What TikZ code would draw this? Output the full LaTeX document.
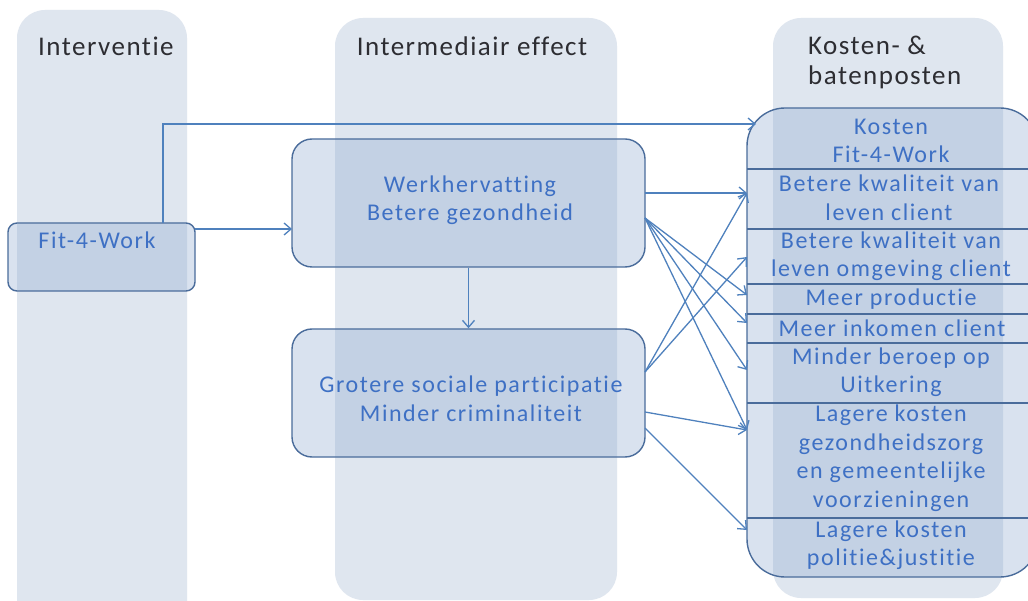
\documentclass[tikz,border=0pt]{standalone}
\usepackage{fontspec}
\setmainfont{Carlito}[LetterSpace=6.5, Ligatures={NoCommon,NoRare}]
\newfontfamily\hdrfont{Carlito}[LetterSpace=5.5, Ligatures={NoCommon,NoRare}]
\usetikzlibrary{arrows.meta,calc}
\definecolor{colbg}{RGB}{223,230,239}
\definecolor{boxfill}{RGB}{132,162,205}
\definecolor{boxline}{RGB}{74,108,155}
\definecolor{arrowc}{RGB}{79,129,189}
\definecolor{txtblue}{RGB}{62,112,196}
\definecolor{hdr}{RGB}{45,45,50}
\begin{document}
\begin{tikzpicture}[x=1pt,y=-1pt,
  column/.style={fill=colbg, draw=none, rounded corners=28pt},
  box/.style={draw=boxline, line width=1.4pt, fill=boxfill, fill opacity=0.3, rounded corners=20pt, inner sep=0pt},
  sepline/.style={draw=boxline, line width=1.4pt},
  arr/.style={draw=arrowc, line width=1.3pt, -{Straight Barb[length=7pt,width=12pt]}},
  btxt/.style={text=txtblue, font=\fontsize{24}{28.5}\selectfont, align=center, inner sep=0pt},
  htxt/.style={text=hdr, font=\hdrfont\fontsize{27}{30}\selectfont, inner sep=0pt}]
\useasboundingbox (0,0) rectangle (1028,601);
\clip (0,0) rectangle (1028,601);
\fill[white] (0,0) rectangle (1028,601);
% columns
\path[column] (17,10) rectangle (187,640);
\path[column] (335,18) rectangle (617,600);
\path[column] (773,18) rectangle (1003,598);
% headers
\node[htxt, anchor=west] (h1) at (38,46) {Interventie};
\node[htxt] (h2) at (472,46) {Intermediair effect};
\node[htxt, anchor=north west, align=left] (h3) at (808,36) {Kosten- \&\\batenposten};
% boxes
\node[box, rounded corners=9pt, minimum width=187pt, minimum height=68pt] (fit) at (101.5,257) {};
\node[box, minimum width=353pt, minimum height=128pt] (werk) at (468.5,203) {};
\node[box, minimum width=353pt, minimum height=128pt] (grot) at (468.5,393) {};
\node[box, rounded corners=38pt, minimum width=291pt, minimum height=469pt] (kost) at (892.5,342.5) {};
% separators
\foreach \yy in {169,229,284,314,343,403,518}
  \draw[sepline] (747,\yy) -- (1038,\yy);
% texts
\node[btxt] (tfit) at (97,240) {Fit-4-Work};
\node[btxt] (twerk) at (470,200) {Werkhervatting\\Betere gezondheid};
\node[btxt] (tgrot) at (471,399) {Grotere sociale participatie\\Minder criminaliteit};
\node[btxt] (r1) at (891,141) {Kosten\\Fit-4-Work};
\node[btxt] (r2) at (889,198) {Betere kwaliteit van\\leven client};
\node[btxt] (r3) at (891,256) {Betere kwaliteit van\\leven omgeving client};
\node[btxt] (r4) at (891,299) {Meer productie};
\node[btxt] (r5) at (892,328) {Meer inkomen client};
\node[btxt] (r6) at (891,372) {Minder beroep op\\Uitkering};
\node[btxt] (r7) at (891,458) {Lagere kosten\\gezondheidszorg\\en gemeentelijke\\voorzieningen};
\node[btxt] (r8) at (891,545) {Lagere kosten\\politie\&justitie};
% connector coordinates
\coordinate (fitA) at (163,223);
\coordinate (fitB) at (195,229);
\coordinate (werkIn) at (292,229);
\coordinate (kin) at (756,124);
\coordinate (wa) at (645,193);
\coordinate (wf) at (645,218);
\coordinate (ga) at (645,372);
\coordinate (gb) at (645,412);
\coordinate (gc) at (645,428);
\coordinate (k1) at (747,193);
\coordinate (k2) at (747,257);
\coordinate (k3) at (747,295);
\coordinate (k4) at (747,323);
\coordinate (k5) at (747,370);
\coordinate (k6) at (747,430);
\coordinate (k7) at (747,530);
% connectors
\draw[arr] (fitA) |- (kin);
\draw[arr] (fitB) -- (werkIn);
\draw[arr] (werk.south) -- (grot.north);
\draw[arr] (wa) -- (k1);
\foreach \t in {k3,k4,k5,k6} \draw[arr] (wf) -- (\t);
\draw[arr] (ga) -- (k1);
\draw[arr] (ga) -- (k2);
\draw[arr] (gb) -- (k6);
\draw[arr] (gc) -- (k7);
\end{tikzpicture}
\end{document}
